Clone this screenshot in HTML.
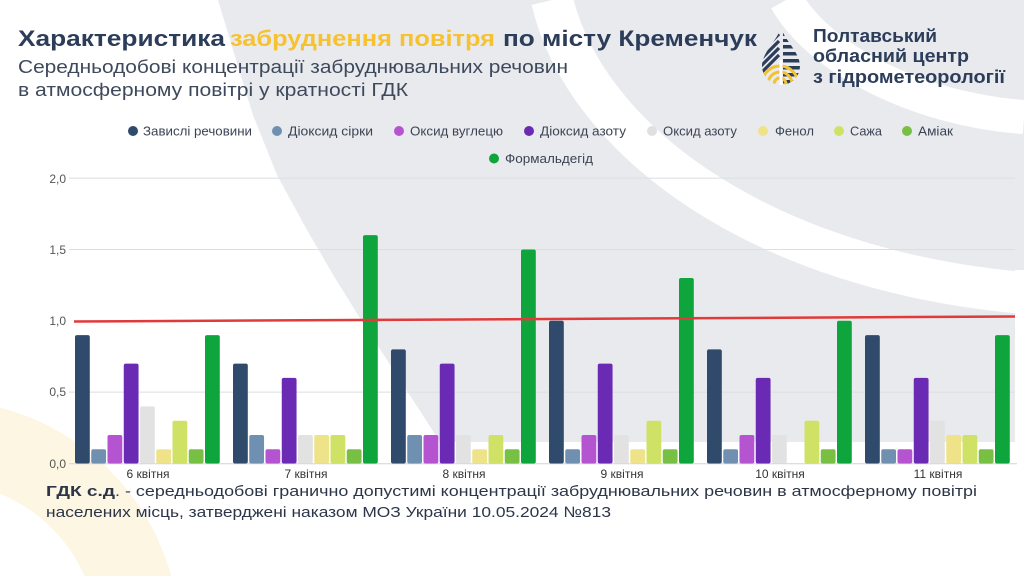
<!DOCTYPE html>
<html><head><meta charset="utf-8"><style>
html,body{margin:0;padding:0;background:#fff;width:1024px;height:576px;overflow:hidden;}
svg{display:block;}
text{font-family:"Liberation Sans","DejaVu Sans",sans-serif;}
</style></head><body>
<svg width="1024" height="576" viewBox="0 0 1024 576" xmlns="http://www.w3.org/2000/svg">
<rect width="1024" height="576" fill="#ffffff"/>
<!-- bottom-left pale yellow arc band -->
<path d="M0,407.6 A240,240 0 0 1 171.3,576 L84.5,576 A158,158 0 0 0 0,493.8 Z" fill="#fdf6e3"/>
<!-- gray background region -->
<path d="M218,0 L1024,0 L1024,270 L1015,270 L1015,442 L440,442 L400,380 L363,323 L335,278 L307,230 L277,175 L253,115 L236,60 Z" fill="#e9eaee"/>
<!-- white arcs -->
<path d="M552,0 C585,140 760,270 1024,293" fill="none" stroke="#ffffff" stroke-width="42"/>
<path d="M786,0 C820,60 920,110 1024,117" fill="none" stroke="#ffffff" stroke-width="34"/>

<!-- Title -->
<text x="18" y="46" font-size="22.5" font-weight="bold" fill="#2c3d5a" textLength="207" lengthAdjust="spacingAndGlyphs">Характеристика</text>
<text x="230" y="46" font-size="22.5" font-weight="bold" fill="#f6c232" textLength="265" lengthAdjust="spacingAndGlyphs">забруднення повітря</text>
<text x="503" y="46" font-size="22.5" font-weight="bold" fill="#2c3d5a" textLength="254" lengthAdjust="spacingAndGlyphs">по місту Кременчук</text>
<text x="18" y="73" font-size="18.5" fill="#3e4a5c" textLength="550" lengthAdjust="spacingAndGlyphs">Середньодобові концентрації забруднювальних речовин</text>
<text x="18" y="96" font-size="18.5" fill="#3e4a5c" textLength="390" lengthAdjust="spacingAndGlyphs">в атмосферному повітрі у кратності ГДК</text>

<!-- Logo icon -->
<defs>
<clipPath id="drop"><path d="M781,27 C784,40 800,52 800,66 A19,19 0 0 1 762,66 C762,52 778,40 781,27 Z"/></clipPath>
</defs>
<g clip-path="url(#drop)">
  <g fill="#2c3d5a">
    <rect x="783" y="33" width="20" height="3"/>
    <rect x="783" y="39" width="20" height="3"/>
    <rect x="783" y="45" width="20" height="3.5"/>
    <rect x="783" y="52" width="20" height="3.5"/>
    <rect x="783" y="59" width="20" height="3.5"/>
    <rect x="783" y="66" width="20" height="3.5"/>
    <rect x="783" y="73" width="20" height="3.5"/>
    <rect x="783" y="80" width="20" height="3.5"/>
  </g>
  <g stroke="#2c3d5a" stroke-width="3.2">
    <line x1="779" y1="34" x2="760" y2="53"/>
    <line x1="779" y1="41" x2="758" y2="62"/>
    <line x1="779" y1="48" x2="756" y2="71"/>
    <line x1="779" y1="55" x2="762" y2="72"/>
  </g>
  <g fill="none" stroke="#f2c230" stroke-width="3">
    <circle cx="780" cy="84" r="6"/>
    <circle cx="780" cy="84" r="12"/>
    <circle cx="780" cy="84" r="18"/>
  </g>
  <rect x="779.5" y="60" width="3" height="30" fill="#fff"/>
</g>
<!-- Logo text -->
<text x="813" y="42" font-size="18.5" font-weight="bold" fill="#2c3d5a" textLength="124" lengthAdjust="spacingAndGlyphs">Полтавський</text>
<text x="813" y="62" font-size="18.5" font-weight="bold" fill="#2c3d5a" textLength="156" lengthAdjust="spacingAndGlyphs">обласний центр</text>
<text x="813" y="83" font-size="18.5" font-weight="bold" fill="#2c3d5a" textLength="192" lengthAdjust="spacingAndGlyphs">з гідрометеорології</text>

<!-- Legend -->
<g font-size="12.5" fill="#3b4454">
<circle cx="133" cy="131" r="5" fill="#2f4a6a"/><text x="143" y="135.5" textLength="109" lengthAdjust="spacingAndGlyphs">Завислі речовини</text>
<circle cx="277" cy="131" r="5" fill="#7090b2"/><text x="288" y="135.5" textLength="85" lengthAdjust="spacingAndGlyphs">Діоксид сірки</text>
<circle cx="399" cy="131" r="5" fill="#b554d0"/><text x="410" y="135.5" textLength="93" lengthAdjust="spacingAndGlyphs">Оксид вуглецю</text>
<circle cx="529" cy="131" r="5" fill="#6a2ab4"/><text x="540" y="135.5" textLength="86" lengthAdjust="spacingAndGlyphs">Діоксид азоту</text>
<circle cx="652" cy="131" r="5" fill="#e0e0e0"/><text x="663" y="135.5" textLength="74" lengthAdjust="spacingAndGlyphs">Оксид азоту</text>
<circle cx="763" cy="131" r="5" fill="#efe38a"/><text x="775" y="135.5" textLength="39" lengthAdjust="spacingAndGlyphs">Фенол</text>
<circle cx="839" cy="131" r="5" fill="#cfe266"/><text x="850" y="135.5" textLength="32" lengthAdjust="spacingAndGlyphs">Сажа</text>
<circle cx="907" cy="131" r="5" fill="#77c043"/><text x="918" y="135.5" textLength="35" lengthAdjust="spacingAndGlyphs">Аміак</text>
<circle cx="494" cy="158.5" r="5" fill="#0ea63c"/><text x="505" y="163" textLength="88" lengthAdjust="spacingAndGlyphs">Формальдегід</text>
</g>

<!-- Grid -->
<g stroke="#dcdee3" stroke-width="1">
<line x1="69" y1="178.1" x2="1015" y2="178.1"/>
<line x1="69" y1="249.45" x2="1015" y2="249.45"/>
<line x1="69" y1="392.15" x2="1015" y2="392.15"/>
</g>
<line x1="69" y1="463.8" x2="1017" y2="463.8" stroke="#d2d4d8" stroke-width="1"/>

<!-- Y labels -->
<g font-size="12" fill="#555" text-anchor="end">
<text x="66" y="183">2,0</text>
<text x="66" y="254">1,5</text>
<text x="66" y="325">1,0</text>
<text x="66" y="396">0,5</text>
<text x="66" y="468">0,0</text>
</g>

<!-- Bars -->
<g transform="translate(75,0)">
<rect x="0" y="335.07" width="14.8" height="128.43" rx="2" fill="#2f4a6a"/>
<rect x="16.25" y="449.23" width="14.8" height="14.27" rx="2" fill="#7090b2"/>
<rect x="32.5" y="434.96" width="14.8" height="28.54" rx="2" fill="#b554d0"/>
<rect x="48.75" y="363.61" width="14.8" height="99.89" rx="2" fill="#6a2ab4"/>
<rect x="65" y="406.42" width="14.8" height="57.08" rx="2" fill="#e2e2e2"/>
<rect x="81.25" y="449.23" width="14.8" height="14.27" rx="2" fill="#efe38a"/>
<rect x="97.5" y="420.69" width="14.8" height="42.81" rx="2" fill="#cfe266"/>
<rect x="113.75" y="449.23" width="14.8" height="14.27" rx="2" fill="#77c043"/>
<rect x="130" y="335.07" width="14.8" height="128.43" rx="2" fill="#0ea63c"/>
</g>
<g transform="translate(233,0)">
<rect x="0" y="363.61" width="14.8" height="99.89" rx="2" fill="#2f4a6a"/>
<rect x="16.25" y="434.96" width="14.8" height="28.54" rx="2" fill="#7090b2"/>
<rect x="32.5" y="449.23" width="14.8" height="14.27" rx="2" fill="#b554d0"/>
<rect x="48.75" y="377.88" width="14.8" height="85.62" rx="2" fill="#6a2ab4"/>
<rect x="65" y="434.96" width="14.8" height="28.54" rx="2" fill="#e2e2e2"/>
<rect x="81.25" y="434.96" width="14.8" height="28.54" rx="2" fill="#efe38a"/>
<rect x="97.5" y="434.96" width="14.8" height="28.54" rx="2" fill="#cfe266"/>
<rect x="113.75" y="449.23" width="14.8" height="14.27" rx="2" fill="#77c043"/>
<rect x="130" y="235.18" width="14.8" height="228.32" rx="2" fill="#0ea63c"/>
</g>
<g transform="translate(391,0)">
<rect x="0" y="349.34" width="14.8" height="114.16" rx="2" fill="#2f4a6a"/>
<rect x="16.25" y="434.96" width="14.8" height="28.54" rx="2" fill="#7090b2"/>
<rect x="32.5" y="434.96" width="14.8" height="28.54" rx="2" fill="#b554d0"/>
<rect x="48.75" y="363.61" width="14.8" height="99.89" rx="2" fill="#6a2ab4"/>
<rect x="65" y="434.96" width="14.8" height="28.54" rx="2" fill="#e2e2e2"/>
<rect x="81.25" y="449.23" width="14.8" height="14.27" rx="2" fill="#efe38a"/>
<rect x="97.5" y="434.96" width="14.8" height="28.54" rx="2" fill="#cfe266"/>
<rect x="113.75" y="449.23" width="14.8" height="14.27" rx="2" fill="#77c043"/>
<rect x="130" y="249.45" width="14.8" height="214.05" rx="2" fill="#0ea63c"/>
</g>
<g transform="translate(549,0)">
<rect x="0" y="320.8" width="14.8" height="142.7" rx="2" fill="#2f4a6a"/>
<rect x="16.25" y="449.23" width="14.8" height="14.27" rx="2" fill="#7090b2"/>
<rect x="32.5" y="434.96" width="14.8" height="28.54" rx="2" fill="#b554d0"/>
<rect x="48.75" y="363.61" width="14.8" height="99.89" rx="2" fill="#6a2ab4"/>
<rect x="65" y="434.96" width="14.8" height="28.54" rx="2" fill="#e2e2e2"/>
<rect x="81.25" y="449.23" width="14.8" height="14.27" rx="2" fill="#efe38a"/>
<rect x="97.5" y="420.69" width="14.8" height="42.81" rx="2" fill="#cfe266"/>
<rect x="113.75" y="449.23" width="14.8" height="14.27" rx="2" fill="#77c043"/>
<rect x="130" y="277.99" width="14.8" height="185.51" rx="2" fill="#0ea63c"/>
</g>
<g transform="translate(707,0)">
<rect x="0" y="349.34" width="14.8" height="114.16" rx="2" fill="#2f4a6a"/>
<rect x="16.25" y="449.23" width="14.8" height="14.27" rx="2" fill="#7090b2"/>
<rect x="32.5" y="434.96" width="14.8" height="28.54" rx="2" fill="#b554d0"/>
<rect x="48.75" y="377.88" width="14.8" height="85.62" rx="2" fill="#6a2ab4"/>
<rect x="65" y="434.96" width="14.8" height="28.54" rx="2" fill="#e2e2e2"/>
<rect x="97.5" y="420.69" width="14.8" height="42.81" rx="2" fill="#cfe266"/>
<rect x="113.75" y="449.23" width="14.8" height="14.27" rx="2" fill="#77c043"/>
<rect x="130" y="320.8" width="14.8" height="142.7" rx="2" fill="#0ea63c"/>
</g>
<g transform="translate(865,0)">
<rect x="0" y="335.07" width="14.8" height="128.43" rx="2" fill="#2f4a6a"/>
<rect x="16.25" y="449.23" width="14.8" height="14.27" rx="2" fill="#7090b2"/>
<rect x="32.5" y="449.23" width="14.8" height="14.27" rx="2" fill="#b554d0"/>
<rect x="48.75" y="377.88" width="14.8" height="85.62" rx="2" fill="#6a2ab4"/>
<rect x="65" y="420.69" width="14.8" height="42.81" rx="2" fill="#e2e2e2"/>
<rect x="81.25" y="434.96" width="14.8" height="28.54" rx="2" fill="#efe38a"/>
<rect x="97.5" y="434.96" width="14.8" height="28.54" rx="2" fill="#cfe266"/>
<rect x="113.75" y="449.23" width="14.8" height="14.27" rx="2" fill="#77c043"/>
<rect x="130" y="335.07" width="14.8" height="128.43" rx="2" fill="#0ea63c"/>
</g>

<!-- Red limit line -->
<line x1="74" y1="321.5" x2="1015" y2="316.5" stroke="#e03a3a" stroke-width="2.5"/>

<!-- Category labels -->
<g font-size="12" fill="#333" text-anchor="middle">
<text x="148" y="478">6 квітня</text>
<text x="306" y="478">7 квітня</text>
<text x="464" y="478">8 квітня</text>
<text x="622" y="478">9 квітня</text>
<text x="780" y="478">10 квітня</text>
<text x="938" y="478">11 квітня</text>
</g>

<!-- Footer -->
<text x="46" y="496" font-size="15" font-weight="bold" fill="#2c3648" textLength="69" lengthAdjust="spacingAndGlyphs">ГДК с.д</text>
<text x="115" y="496" font-size="15" fill="#2c3648" textLength="862" lengthAdjust="spacingAndGlyphs">. - середньодобові гранично допустимі концентрації забруднювальних речовин в атмосферному повітрі</text>
<text x="46" y="517" font-size="15" fill="#2c3648" textLength="565" lengthAdjust="spacingAndGlyphs">населених місць, затверджені наказом МОЗ України 10.05.2024 №813</text>
</svg>
</body></html>
